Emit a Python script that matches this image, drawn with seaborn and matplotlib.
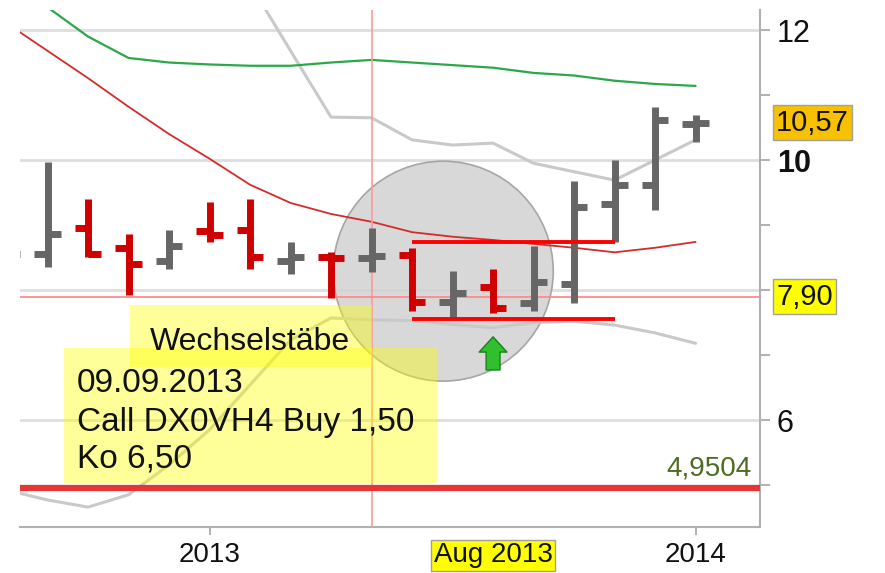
import numpy as np
import pandas as pd
import matplotlib
matplotlib.use("Agg")
import matplotlib.pyplot as plt
import seaborn as sns
from matplotlib.patches import Ellipse, Rectangle
from matplotlib.transforms import blended_transform_factory

# ---------------- data ----------------
months = ["2012-08", "2012-09", "2012-10", "2012-11", "2012-12", "2013-01",
          "2013-02", "2013-03", "2013-04", "2013-05", "2013-06", "2013-07",
          "2013-08", "2013-09", "2013-10", "2013-11", "2013-12", "2014-01"]
open_ = [8.40, 8.55, 8.95, 8.64, 8.45, 8.91, 8.92, 8.45, 8.51, 8.50, 8.54, 7.82,
         8.05, 7.80, 8.10, 9.33, 9.62, 10.56]
high = [8.90, 9.97, 9.40, 8.86, 8.93, 9.36, 9.40, 8.74, 8.58, 8.95, 8.64, 8.29,
        8.33, 8.67, 9.67, 10.00, 10.82, 10.69]
low = [8.30, 8.36, 8.51, 7.92, 8.33, 8.74, 8.32, 8.24, 7.87, 8.28, 7.67, 7.57,
       7.64, 7.67, 7.80, 8.74, 9.23, 10.28]
close = [8.55, 8.86, 8.56, 8.40, 8.67, 8.85, 8.51, 8.51, 8.49, 8.52, 7.82, 7.96,
         7.72, 8.13, 9.28, 9.62, 10.62, 10.57]

ma_green = [12.90, 12.35, 11.90, 11.57, 11.50, 11.47, 11.45, 11.45, 11.50, 11.54,
            11.50, 11.46, 11.42, 11.34, 11.30, 11.22, 11.17, 11.14]
ma_red = [12.10, 11.68, 11.26, 10.82, 10.40, 10.02, 9.62, 9.34, 9.17, 9.05,
          8.89, 8.82, 8.77, 8.71, 8.65, 8.58, 8.65, 8.74]
band_upper = [np.nan, np.nan, np.nan, np.nan, np.nan, 13.90, 12.71, 11.68, 10.66,
              10.65, 10.31, 10.23, 10.26, 9.95, 9.82, 9.69, 10.00, 10.31]
band_lower = [4.92, 4.77, 4.66, 4.85, 5.31, 5.85, 6.54, 7.23, 7.57, 7.54, 7.53,
              7.47, 7.42, 7.50, 7.52, 7.46, 7.34, 7.18]

x_tick_months = ["2013-01", "2013-08", "2014-01"]
x_tick_labels = ["2013", "Aug 2013", "2014"]
y_ticks = [6, 8, 10, 12]
y_tick_labels = ["6", "", "10", "12"]   # the "8" sits hidden behind the 7,90 box
y_minor_ticks = [5, 7, 9, 11]

last_price = 10.57
last_label = "10,57"
ref_price = 7.90
ref_label = "7,90"
ko_level = 4.9504
ko_label = "4,9504"
range_hi, range_lo = 8.74, 7.56
range_from, range_to = "2013-06", "2013-11"
cross_month = "2013-05"
signal_month = "2013-08"
note_title = "Wechselstäbe"
note_lines = ["09.09.2013", "Call DX0VH4 Buy 1,50", "Ko 6,50"]

# ---------------- style ----------------
sns.set_theme(style="white")
plt.rcParams["font.family"] = ["Liberation Sans", "DejaVu Sans"]

df = pd.DataFrame({"month": months, "open": open_, "high": high, "low": low,
                   "close": close, "ma_green": ma_green, "ma_red": ma_red,
                   "upper": band_upper, "lower": band_lower})
df["pos"] = np.arange(len(df))
pos_of = {m: i for i, m in enumerate(months)}

W, H = 885, 573
fig = plt.figure(figsize=(W / 100, H / 100), dpi=100)
ax = fig.add_axes([20 / W, 46 / H, 740 / W, 517 / H])
ax.set_facecolor("white")

# circle highlight
circ = Ellipse((10.77, 8.29), width=2 * 2.716, height=2 * 1.692,
               facecolor="#d2d2d2", edgecolor="#9a9a9a", lw=1.2,
               alpha=0.85, zorder=1)
ax.add_patch(circ)

# indicator lines
sns.lineplot(data=df, x="pos", y="upper", color="#c9c9c9", lw=2.2, ax=ax,
             zorder=2, legend=False)
sns.lineplot(data=df, x="pos", y="lower", color="#c9c9c9", lw=2.2, ax=ax,
             zorder=2, legend=False)
sns.lineplot(data=df, x="pos", y="ma_green", color="#2aa84a", lw=1.6, ax=ax,
             zorder=2, legend=False)
sns.lineplot(data=df, x="pos", y="ma_red", color="#d42a2a", lw=1.3, ax=ax,
             zorder=2, legend=False)

# crosshair and reference lines
ax.axvline(pos_of[cross_month], color="#ff9a9a", lw=1.2, zorder=2.3)
ax.axhline(ref_price, color="#ff8a8a", lw=1.3, zorder=2.3)
ax.axhline(ko_level, color="#e53535", lw=4.5, zorder=2.6)

# OHLC bars
cols = ["#666666" if c >= o else "#d00000" for o, c in zip(df["open"], df["close"])]
tick_len = 0.33
ax.vlines(df["pos"], df["low"], df["high"], colors=cols, lw=5, zorder=3,
          capstyle="butt")
ax.hlines(df["open"], df["pos"] - tick_len, df["pos"], colors=cols, lw=5,
          zorder=3, capstyle="butt")
ax.hlines(df["close"], df["pos"], df["pos"] + tick_len, colors=cols, lw=5,
          zorder=3, capstyle="butt")

# range lines
ax.hlines([range_hi, range_lo], pos_of[range_from], pos_of[range_to],
          colors="#ff0000", lw=2.8, zorder=3.5)

# green arrow
ax.annotate("", xy=(pos_of[signal_month], 7.28),
            xytext=(pos_of[signal_month], 6.77),
            arrowprops=dict(arrowstyle="simple,head_length=0.55,head_width=1.0,tail_width=0.5",
                            mutation_scale=20, fc="#2fbf2f", ec="#1b7f1b", lw=1,
                            shrinkA=0, shrinkB=0),
            zorder=4)

# yellow note boxes (axes fraction from pixel layout)
def fx(px):
    return (px - 20) / 740

def fy(py):
    return (527 - py) / 517

ax.add_patch(Rectangle((fx(130), fy(367)), fx(372) - fx(130), fy(305) - fy(367),
                       transform=ax.transAxes, facecolor="#ffff00", alpha=0.4,
                       edgecolor="none", zorder=4))
ax.add_patch(Rectangle((fx(64), fy(483)), fx(437) - fx(64), fy(348) - fy(483),
                       transform=ax.transAxes, facecolor="#ffff00", alpha=0.4,
                       edgecolor="none", zorder=4))
ax.text(fx(250), fy(342), note_title, transform=ax.transAxes, ha="center",
        va="center", fontsize=23, color="#111111", zorder=6)
for t, py in zip(note_lines, [384, 422, 459]):
    ax.text(fx(77), fy(py), t, transform=ax.transAxes, ha="left", va="center",
            fontsize=24, color="#111111", zorder=6)

# KO label
ax.annotate(ko_label, xy=(1.0, ko_level),
            xycoords=blended_transform_factory(ax.transAxes, ax.transData),
            xytext=(-6, 5), textcoords="offset points", ha="right",
            va="bottom", fontsize=20, color="#4e6b22", zorder=6)

# axes limits and ticks
ax.set_xlim(0.321, 18.59)
ax.set_ylim(4.354, 12.308)
ax.set_xlabel("")
ax.set_ylabel("")

ax.yaxis.tick_right()
ax.set_yticks(y_ticks)
ax.set_yticks(y_minor_ticks, minor=True)
ylabels = ax.set_yticklabels(y_tick_labels)
for t in ylabels:
    if t.get_text() == "10":
        t.set_fontweight("bold")
ax.tick_params(axis="y", which="both", right=True, left=False, labelright=True,
               labelleft=False, length=7, width=1.3, color="#aaaaaa",
               direction="out", pad=5, labelsize=22, labelcolor="#111111")

ax.set_xticks([pos_of[m] for m in x_tick_months])
xlabels = ax.set_xticklabels(x_tick_labels)
ax.tick_params(axis="x", which="both", bottom=True, length=6, width=1.3,
               color="#aaaaaa", direction="out", pad=5, labelsize=20,
               labelcolor="#111111")
xticks = ax.xaxis.get_major_ticks()
xticks[1].tick1line.set_visible(False)
xlabels[1].set_bbox(dict(boxstyle="square,pad=0.08", facecolor="#ffff00",
                         edgecolor="#a0a0a0", lw=1))

ax.grid(axis="y", which="major", color="#dedede", lw=2)
ax.grid(axis="x", visible=False)
ax.set_axisbelow(True)

for s in ["left", "top"]:
    ax.spines[s].set_visible(False)
for s in ["right", "bottom"]:
    ax.spines[s].set_color("#b0b0b0")
    ax.spines[s].set_linewidth(1.5)

# price boxes on the right
bt = blended_transform_factory(ax.transAxes, ax.transData)
ax.text(fx(776), last_price, last_label, transform=bt, ha="left", va="center",
        fontsize=21, color="#111111", clip_on=False, zorder=20,
        bbox=dict(boxstyle="square,pad=0.12", facecolor="#f7c100",
                  edgecolor="#a0a0a0", lw=1))
ax.text(fx(776), ref_price, ref_label, transform=bt, ha="left", va="center",
        fontsize=21, color="#111111", clip_on=False, zorder=20,
        bbox=dict(boxstyle="square,pad=0.12", facecolor="#ffff00",
                  edgecolor="#a0a0a0", lw=1))

fig.savefig("out.png", dpi=100)
